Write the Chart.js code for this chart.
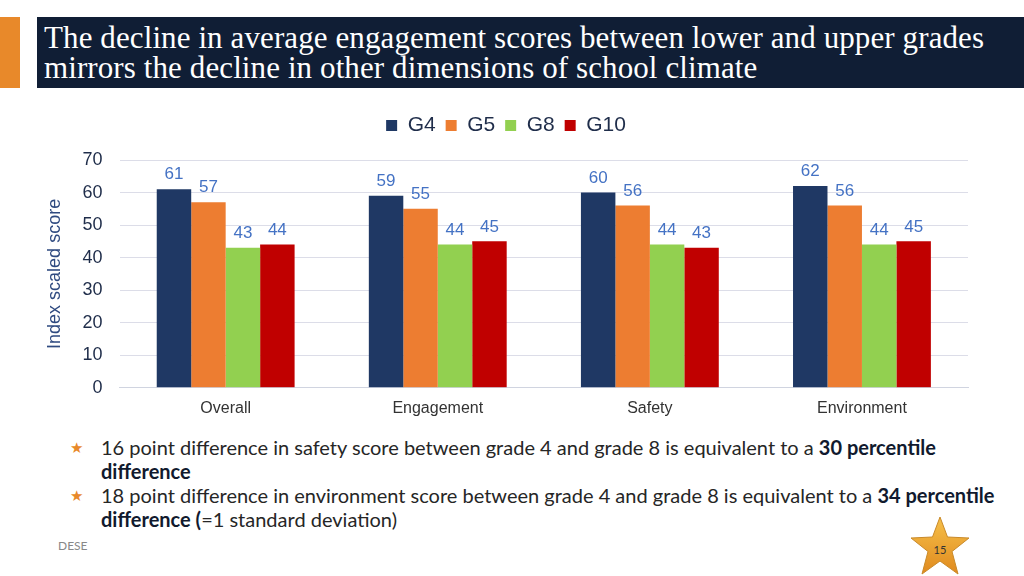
<!DOCTYPE html>
<html>
<head>
<meta charset="utf-8">
<script src="https://cdn.jsdelivr.net/npm/chart.js@4/dist/chart.umd.min.js"></script>
<style>
  html, body { margin: 0; padding: 0; background: #fff; }
  body { width: 1024px; height: 576px; position: relative; overflow: hidden; font-family: Lato, "Open Sans", sans-serif; }
  .accent { position: absolute; left: 0; top: 17px; width: 20px; height: 71px; background: #e8892a; }
  .title-bar { position: absolute; left: 37px; top: 17px; width: 987px; height: 71px; background: #101e35; }
  .title-bar h1 { margin: 0; padding: 6px 0 0 7px; font: 31px/30px "Liberation Serif", "DejaVu Serif", serif; color: #fff; font-weight: normal; letter-spacing: 0.1px; white-space: nowrap; }
  #wrap { position: absolute; left: 0; top: 97px; width: 1024px; height: 324px; }
  .notes { position: absolute; left: 101px; top: 435px; width: 910px; font-size: 20px; line-height: 24px; color: #262626; }
  .notes p { margin: 0; position: relative; }
  .notes p::before { content: "\2605"; position: absolute; left: -31px; top: 0; color: #e8892a; font-size: 15px; }
  .notes b { color: #111a2e; }
  .footer { position: absolute; left: 58px; top: 538px; font-size: 12px; color: #888; }
  .star { position: absolute; left: 908px; top: 516px; }
</style>
</head>
<body>
<div class="accent"></div>
<div class="title-bar"><h1>The decline in average engagement scores between lower and upper grades<br>mirrors the decline in other dimensions of school climate</h1></div>
<div id="wrap"><canvas id="chart"></canvas></div>
<div class="notes">
  <p>16 point difference in safety score between grade 4 and grade 8 is equivalent to a <b>30 percentile difference</b></p>
  <p>18 point difference in environment score between grade 4 and grade 8 is equivalent to a <b>34 percentile difference (</b>=1 standard deviation)</p>
</div>
<div class="footer">DESE</div>
<svg class="star" width="64" height="60" viewBox="0 0 64 60">
  <defs>
    <linearGradient id="sg" x1="0" y1="0" x2="0" y2="1">
      <stop offset="0" stop-color="#f6c04a"/>
      <stop offset="1" stop-color="#e08a1e"/>
    </linearGradient>
  </defs>
  <polygon points="32,1 39.5,21 61,22 44,35.5 50,58 32,45 14,58 20,35.5 3,22 24.5,21" fill="url(#sg)" stroke="#c98a2a" stroke-width="1"/>
  <text x="32" y="38" text-anchor="middle" font-size="11" font-family="Lato, sans-serif" fill="#333">15</text>
</svg>
<script>
const categories = ['Overall', 'Engagement', 'Safety', 'Environment'];
const grades = ['G4', 'G5', 'G8', 'G10'];
const g4 = [61, 59, 60, 62];
const g5 = [57, 55, 56, 56];
const g8 = [43, 44, 44, 44];
const g10 = [44, 45, 43, 45];
const colors = ['#1f3864', '#ed7d31', '#92d050', '#c00000'];

const font = 'Arial, "Liberation Sans", sans-serif';

// numbers above each bar
const valueLabels = {
  id: 'valueLabels',
  afterDatasetsDraw(chart) {
    const ctx = chart.ctx;
    ctx.save();
    ctx.font = '17px ' + font;
    ctx.fillStyle = '#4472c4';
    ctx.textAlign = 'center';
    ctx.textBaseline = 'bottom';
    chart.data.datasets.forEach((ds, i) => {
      chart.getDatasetMeta(i).data.forEach((bar, j) => {
        ctx.fillText(ds.data[j], bar.x, bar.y - 6);
      });
    });
    ctx.restore();
  }
};

// extra space under the legend
const legendGap = {
  id: 'legendGap',
  beforeInit(chart) {
    const fit = chart.legend.fit;
    chart.legend.fit = function () {
      fit.bind(chart.legend)();
      this.height += 14;
    };
  }
};

const series = [g4, g5, g8, g10];
new Chart(document.getElementById('chart'), {
  type: 'bar',
  data: {
    labels: categories,
    datasets: series.map((d, i) => ({
      label: grades[i],
      data: d,
      backgroundColor: colors[i],
      barPercentage: 1,
      categoryPercentage: 0.65
    }))
  },
  options: {
    responsive: true,
    maintainAspectRatio: false,
    animation: false,
    layout: { padding: { left: 44, right: 56, top: 8, bottom: 0 } },
    plugins: {
      tooltip: { enabled: false },
      legend: {
        position: 'top',
        labels: {
          boxWidth: 11, boxHeight: 11, padding: 10,
          color: '#1f2d4a',
          font: { family: font, size: 21 }
        }
      }
    },
    scales: {
      x: {
        grid: { display: false },
        border: { color: '#d0d4e0' },
        ticks: { color: '#333', font: { family: font, size: 16 }, padding: 3 }
      },
      y: {
        min: 0, max: 70,
        ticks: { stepSize: 10, color: '#1f2d4a', padding: 17, font: { family: font, size: 18 } },
        grid: { color: '#dcdde8', drawTicks: false },
        border: { display: false },
        title: { display: true, text: 'Index scaled score', color: '#2f4a80', font: { family: font, size: 18 }, padding: 0 }
      }
    }
  },
  plugins: [valueLabels, legendGap]
});
</script>
</body>
</html>
